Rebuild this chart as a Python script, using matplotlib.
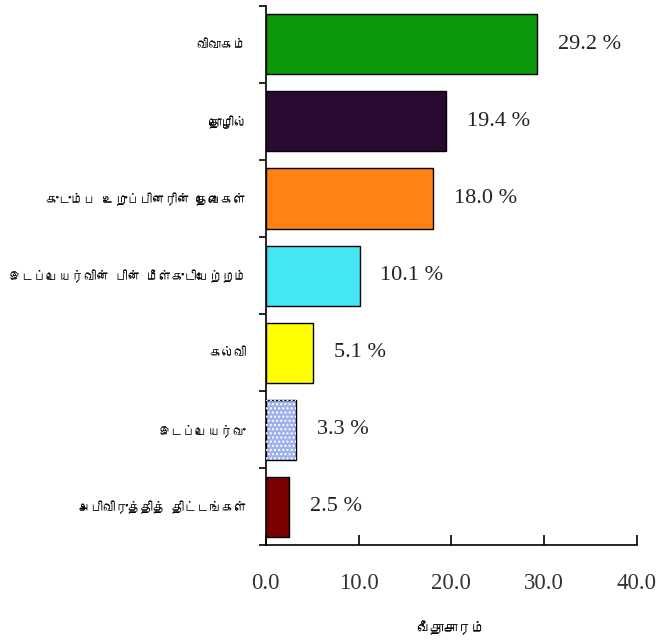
import matplotlib
matplotlib.use('Agg')
import matplotlib.pyplot as plt
from matplotlib import font_manager
from matplotlib.ft2font import FT2Font
import numpy as np

# data, top to bottom
categories = ['விவாகம்', 'தொழில்', 'குடும்ப உறுப்பினரின் தேவைகள்',
              'இடப்பெயர்வின் பின் மீள்குடியேற்றம்', 'கல்வி', 'இடப்பெயர்வு',
              'அபிவிருத்தித் திட்டங்கள்']
values = [29.2, 19.4, 18.0, 10.1, 5.1, 3.3, 2.5]
colors = ['#0b990b', '#2b0a32', '#ff8212', '#44e6f2', '#ffff00', '#9fb0ea', '#7d0000']
xticks = [0, 10, 20, 30, 40]
xlabel = 'வீதாசாரம்'


# look for an installed font that has Tamil glyphs
def find_tamil_font():
    for f in font_manager.fontManager.ttflist:
        try:
            cmap = FT2Font(f.fname).get_charmap()
        except Exception:
            continue
        if 0x0BB5 in cmap and 0x0BCD in cmap:
            return f.name
    return None


tamil = find_tamil_font()
tamil_family = [tamil, 'DejaVu Sans'] if tamil else ['DejaVu Sans']
serif = ['Liberation Serif', 'DejaVu Serif']

fig = plt.figure(figsize=(6.58, 6.41), dpi=100)
ax = fig.add_axes([0.404, 0.149, 0.564, 0.842])

y = np.arange(len(categories))
for i in range(len(categories)):
    ax.barh(y[i], values[i], height=0.78, color=colors[i], edgecolor='black', linewidth=1.0, zorder=2)
    if i == 5:
        # dotted fill on the blue bar
        ax.barh(y[i], values[i], height=0.78, color='none', edgecolor='white', hatch='....',
                linewidth=0, zorder=3)
    ax.annotate(f'{values[i]:.1f} %', (values[i], y[i]), xytext=(15, 0), textcoords='offset points',
                ha='left', va='center', fontsize=16, family=serif, color='#222222')

ax.set_xlim(0, 40)
ax.set_ylim(len(categories) - 0.5, -0.5)

ax.set_xticks(xticks)
ax.set_xticklabels([f'{t:.1f}' for t in xticks], family=serif, fontsize=16.5, color='#333333')
ax.tick_params(axis='x', direction='in', length=7, width=1.2, pad=20)

ax.set_yticks(y)
ax.set_yticklabels(categories, family=tamil_family, fontsize=9)
ax.tick_params(axis='y', which='major', length=0, pad=14)
ax.set_yticks(np.arange(-0.5, len(categories), 1.0), minor=True)
ax.tick_params(axis='y', which='minor', direction='out', length=5, width=1.2)

for s in ['top', 'right']:
    ax.spines[s].set_visible(False)
ax.spines['left'].set_linewidth(1.2)
ax.spines['bottom'].set_linewidth(1.2)

fig.text(451 / 658, 1 - 628 / 641, xlabel, family=tamil_family, fontsize=10, ha='center', va='center')

plt.savefig('out.png', dpi=100)
